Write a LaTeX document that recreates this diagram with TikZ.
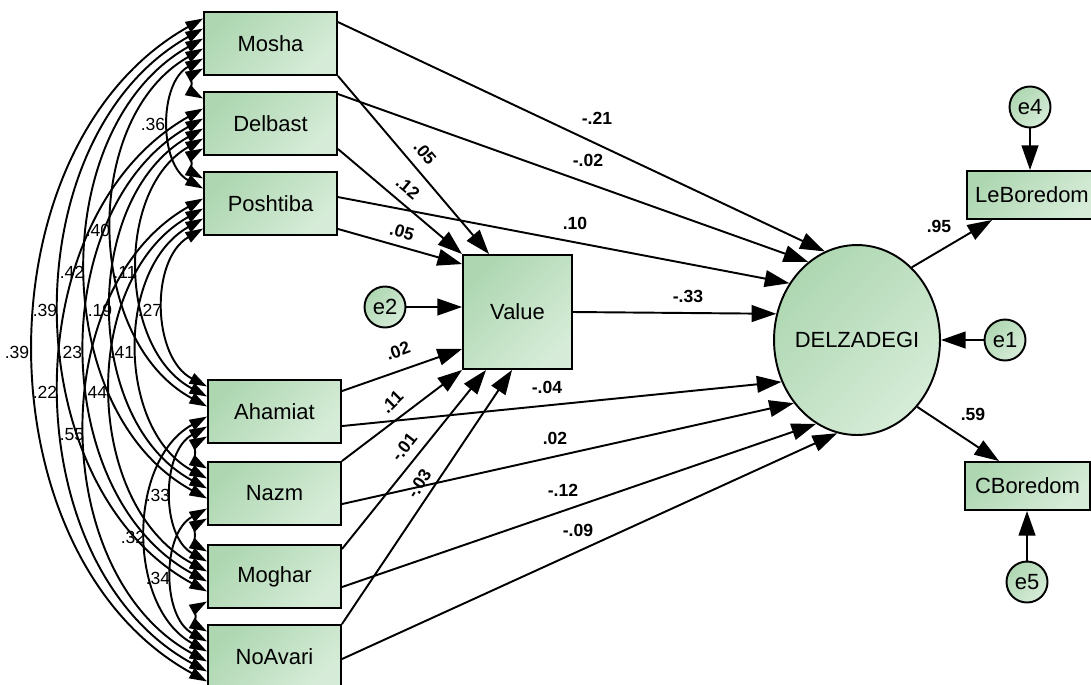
\documentclass[tikz,border=0pt]{standalone}
\usepackage{fontspec}
\setmainfont{Liberation Sans}
\usepackage{tikz}
\usetikzlibrary{calc}
\usetikzlibrary{arrows.meta}
\usetikzlibrary{shapes.geometric}
\definecolor{amosdark}{RGB}{174,215,177}
\definecolor{amoslight}{RGB}{214,236,216}
\tikzset{
    var/.style={draw, line width=1.1pt, top color=amosdark, bottom color=amoslight, shading angle=45, inner sep=0pt, font=\fontsize{12.5}{14}\selectfont},
    obs/.style={var, rectangle, minimum width=2.66cm, minimum height=1.26cm},
    lat/.style={var, ellipse, minimum width=3.32cm, minimum height=3.8cm},
    err/.style={var, circle, minimum size=0.82cm},
    eff/.style={-{Triangle[length=14pt,width=9.5pt]}, line width=1.1pt},
    cov/.style={{Triangle[length=10pt,width=6.5pt]}-{Triangle[length=10pt,width=6.5pt]}, line width=1.1pt},
    coef/.style={font=\fontsize{10}{11}\selectfont\bfseries, inner sep=1pt},
    corr/.style={font=\fontsize{10}{11}\selectfont, inner sep=1pt}
}

\begin{document}
\begin{tikzpicture}[x=0.02cm, y=-0.02cm]
\useasboundingbox (0,0) rectangle (1091,684);
\clip (0,0) rectangle (1091,684);
\foreach \i/\x/\y/\t in {0/270.5/43.5/Mosha, 1/270.5/123.5/Delbast, 2/270.5/203.5/Poshtiba, 3/274.5/411.5/Ahamiat, 4/274.5/493.5/Nazm, 5/274.5/576.5/Moghar, 6/274.5/656.5/NoAvari}{
    \node[obs] (v\i) at (\x,\y) {\t};
}
\node[obs, minimum width=2.18cm, minimum height=2.28cm] (val) at (517.5,312) {Value};
\node[lat] (del) at (857,340) {\makebox[0pt]{DELZADEGI}};
\node[obs, minimum width=2.6cm, minimum height=0.96cm] (leb) at (1032,195) {LeBoredom};
\node[obs, minimum width=2.5cm, minimum height=0.96cm] (cbo) at (1027.5,486) {CBoredom};
\foreach \n/\x/\y in {e1/1005/340, e2/385/307, e4/1030/107, e5/1027/582}{
    \node[err] (\n) at (\x,\y) {\n};
}
\foreach \i in {0,...,5}{
    \pgfmathtruncatemacro\jfirst{\i+1}
    \foreach \j in {\jfirst,...,6}{
        \pgfmathsetmacro\offi{(\i+6-\j)*10-25}
        \pgfmathsetmacro\offj{(\j-1-\i)*10-25}
        \draw[cov] ($(v\i.west)+(0,\offi)$) to[bend right=61] ($(v\j.west)+(0,\offj)$);
    }
}
\draw[eff] (v0.south east) -- ($(val.north west)+(27,0)$);
\draw[eff] ($(v0.north east)+(0,11)$) -- (del.110);
\draw[eff] ($(v1.north east)+(0,3)$) -- (del.122);
\draw[eff] ($(v1.south east)+(0,-7)$) -- (val.north west);
\draw[eff] ($(v2.north east)+(0,26)$) -- (del.140);
\draw[eff] ($(v2.south east)+(0,-7)$) -- ($(val.north west)+(0,10)$);
\draw[eff] ($(v3.north east)+(0,12)$) -- ($(val.south west)+(0,-21)$);
\draw[eff] ($(v3.north east)+(0,47)$) -- (del.209);
\draw[eff] (v4.north east) -- (val.south west);
\draw[eff] ($(v4.north east)+(0,43)$) -- (del.225);
\draw[eff] ($(v5.north east)+(0,5)$) -- ($(val.south west)+(24,0)$);
\draw[eff] ($(v5.north east)+(0,43)$) -- (del.244);
\draw[eff] (v6.north east) -- ($(val.south west)+(50,0)$);
\draw[eff] ($(v6.north east)+(0,35)$) -- (del.258);
\draw[eff] (val.east) -- (del.162);
\draw[eff] (e2) -- (e2.east -| val.west);
\draw[eff] (e1) -- (del.east);
\draw[eff] (e4) -- (e4 |- leb.north);
\draw[eff] (e5) -- (e5 |- cbo.south);
\draw[eff] (del.53) -- ($(leb.south west)+(26,0)$);
\draw[eff] (del.-48) -- ($(cbo.north west)+(35,0)$);
\foreach \x/\y/\t/\r [count=\k] in {597/118/-.21/0, 588/160/-.02/0, 425/153/.05/-50, 408/188/.12/-40, 402/232/.05/-16, 575/223/.10/0, 688/296/-.33/0, 398/351/.02/20, 392/402/.11/45, 404/447/-.01/52, 419/484/-.03/57, 547/387/-.04/0, 555/438/.02/0, 563/490/-.12/0, 578/530/-.09/0, 939/226/.95/0, 973/414/.59/0}{
    \node[coef, rotate=\r] (c\k) at (\x,\y) {\t};
}
\foreach \x/\y/\t [count=\k] in {153/124/.36, 98/230/.40, 72/272/.42, 45/310/.39, 125/272/.11, 100/310/.19, 150/310/.27, 17/352/.39, 70/352/.23, 122/352/.41, 45/392/.22, 95/392/.44, 72/435/.55, 158/495/.33, 133/537/.32, 158/578/.34}{
    \node[corr] (r\k) at (\x,\y) {\t};
}
\end{tikzpicture}
\end{document}
